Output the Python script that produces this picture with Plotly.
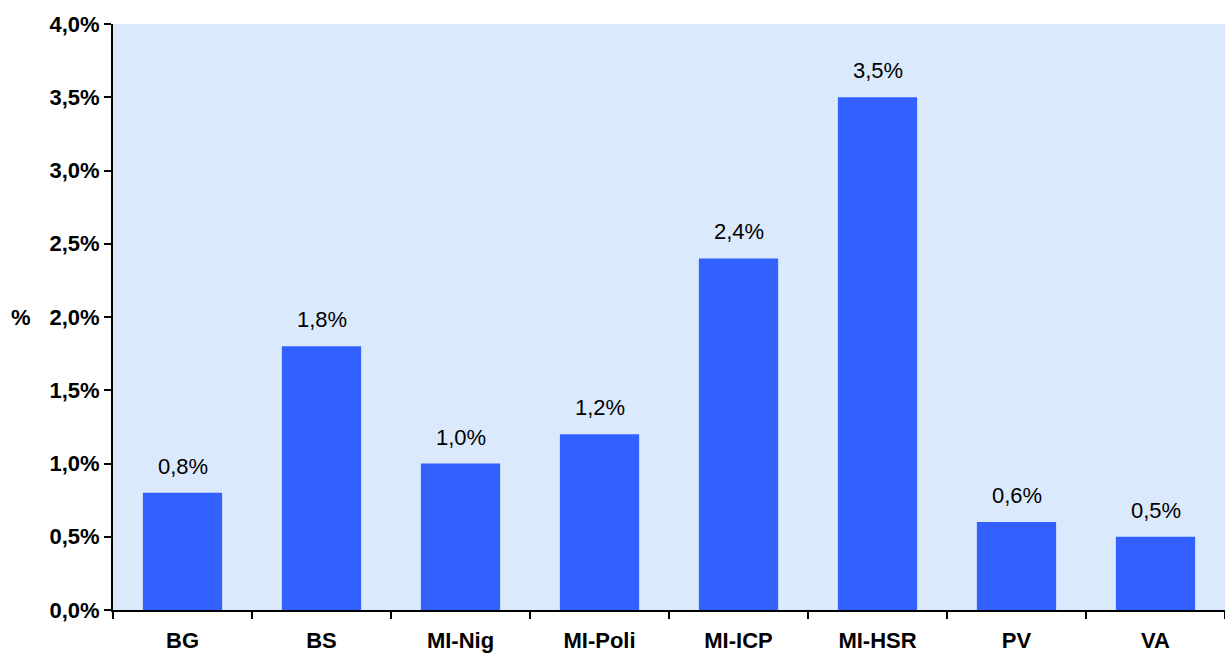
import plotly.graph_objects as go

categories = ["BG", "BS", "MI-Nig", "MI-Poli", "MI-ICP", "MI-HSR", "PV", "VA"]
values = [0.008, 0.018, 0.010, 0.012, 0.024, 0.035, 0.006, 0.005]
labels = ["0,8%", "1,8%", "1,0%", "1,2%", "2,4%", "3,5%", "0,6%", "0,5%"]
y_ticks = [0, 0.005, 0.01, 0.015, 0.02, 0.025, 0.03, 0.035, 0.04]

FONT = "Liberation Sans, Arial, sans-serif"

fig = go.Figure()
fig.add_trace(go.Bar(
    x=categories, y=values,
    marker=dict(color="#3361FF", line=dict(width=0)),
    width=0.57,
))

for c, v, t in zip(categories, values, labels):
    fig.add_annotation(x=c, y=v, text=t, showarrow=False, yanchor="bottom",
                       yshift=12, font=dict(family=FONT, size=22, color="#000"))

fig.add_annotation(xref="paper", yref="paper", x=-0.083, y=0.5, text="%",
                   showarrow=False, xanchor="center", yanchor="middle",
                   font=dict(family=FONT, size=22, color="#000", weight="bold"))

fig.update_layout(
    width=1225, height=657,
    margin=dict(l=113, r=0, t=24, b=47),
    paper_bgcolor="white",
    plot_bgcolor="#DAE9FB",
    separators=",.",
    showlegend=False,
    font=dict(family=FONT, color="#000"),
)
fig.update_xaxes(
    showline=True, linecolor="#000", linewidth=2,
    ticks="outside", tickson="boundaries", ticklen=7, tickwidth=2, tickcolor="#000",
    tickfont=dict(family=FONT, size=22, color="#000", weight="bold"),
    ticklabelstandoff=10,
    showgrid=False,
)
fig.update_yaxes(
    range=[0, 0.04], tickvals=y_ticks, tickformat=".1%",
    showline=True, linecolor="#000", linewidth=2,
    ticks="outside", ticklen=7, tickwidth=2, tickcolor="#000",
    tickfont=dict(family=FONT, size=22, color="#000", weight="bold"),
    showgrid=False, zeroline=False,
)

fig.write_html("out.html", config={"displayModeBar": False},
               post_script="document.body.style.margin='0';document.body.style.overflow='hidden';")
